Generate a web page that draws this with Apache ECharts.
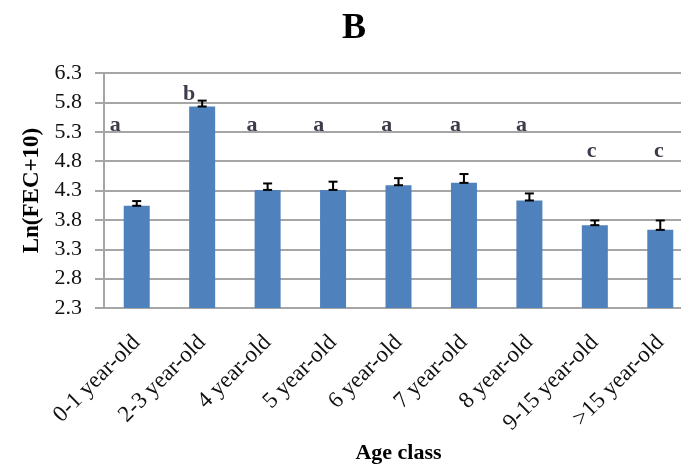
<!DOCTYPE html>
<html><head><meta charset="utf-8">
<script src="https://cdn.jsdelivr.net/npm/echarts@6/dist/echarts.min.js"></script>
<style>html,body{margin:0;padding:0;background:#fff}#c{width:681px;height:465px}</style>
</head><body><div id="c"></div>
<script>
const categories = ['0-1 year-old','2-3 year-old','4 year-old','5 year-old','6 year-old','7 year-old','8 year-old','9-15 year-old','>15 year-old'];
const means = [4.04, 5.73, 4.31, 4.31, 4.39, 4.43, 4.13, 3.71, 3.63];
const errors = [0.08, 0.10, 0.11, 0.14, 0.12, 0.15, 0.12, 0.08, 0.16];
const letters = ['a','b','a','a','a','a','a','c','c'];
const letterX = [-0.33, 0.80, 1.76, 2.78, 3.82, 4.87, 5.88, 6.95, 7.98];
const letterY = [5.41, 5.93, 5.41, 5.41, 5.41, 5.41, 5.41, 4.97, 4.97];
const yMin = 2.3, yMax = 6.3, yStep = 0.5;

const FONT = 'Liberation Serif';
const chart = echarts.init(document.getElementById('c'));
chart.setOption({
  animation: false,
  title: { text: 'B', left: 337, top: 6, textStyle: { fontFamily: FONT, fontSize: 36, fontWeight: 'bold', color: '#000' } },
  grid: { left: 104, right: -12, top: 73, bottom: 157, containLabel: false, outerBoundsMode: 'none' },
  xAxis: [{
    type: 'category', data: categories,
    name: 'Age class', nameLocation: 'middle', nameGap: 132,
    nameTextStyle: { fontFamily: FONT, fontSize: 22, fontWeight: 'bold', color: '#000' },
    axisLine: { lineStyle: { color: '#A6A6A6', width: 2 } },
    axisTick: { show: false },
    axisLabel: { rotate: 45, margin: 31, interval: 0, align: 'right', verticalAlign: 'middle', fontFamily: FONT, fontSize: 23, color: '#111' }
  }, {
    type: 'value', min: -0.5, max: 8.5, show: false
  }],
  yAxis: {
    type: 'value', min: yMin, max: yMax, interval: yStep,
    name: 'Ln(FEC+10)', nameLocation: 'middle', nameGap: 53,
    nameTextStyle: { fontFamily: FONT, fontSize: 23, fontWeight: 'bold', color: '#000' },
    axisLine: { show: true, onZero: false, lineStyle: { color: '#A6A6A6', width: 2 } },
    axisTick: { show: true, length: 9, lineStyle: { color: '#A6A6A6', width: 2 } },
    splitLine: { lineStyle: { color: '#A6A6A6', width: 2 } },
    axisLabel: { margin: 22, fontFamily: FONT, fontSize: 22, color: '#111', formatter: v => v.toFixed(1) }
  },
  series: [{
    type: 'bar', data: means, barWidth: 26, xAxisIndex: 0,
    itemStyle: { color: '#4F81BD' }
  }, {
    type: 'custom', xAxisIndex: 0,
    data: means.map((m, i) => [i, m, m + errors[i]]),
    renderItem: (params, api) => {
      const lo = api.coord([api.value(0), api.value(1)]);
      const hi = api.coord([api.value(0), api.value(2)]);
      const w = 4.5;
      const st = { stroke: '#000', lineWidth: 2 };
      return { type: 'group', children: [
        { type: 'line', shape: { x1: lo[0], y1: lo[1], x2: hi[0], y2: hi[1] }, style: st },
        { type: 'line', shape: { x1: lo[0]-w, y1: lo[1], x2: lo[0]+w, y2: lo[1] }, style: st },
        { type: 'line', shape: { x1: hi[0]-w, y1: hi[1], x2: hi[0]+w, y2: hi[1] }, style: st }
      ]};
    },
    z: 5
  }, {
    type: 'scatter', xAxisIndex: 1, symbolSize: 1,
    itemStyle: { color: 'rgba(0,0,0,0)' },
    data: letters.map((t, i) => [letterX[i], letterY[i]]),
    label: { show: true, position: 'inside', formatter: p => letters[p.dataIndex],
      fontFamily: FONT, fontSize: 22, fontWeight: 'bold', color: '#0b0b1e' }
  }]
});
</script></body></html>
